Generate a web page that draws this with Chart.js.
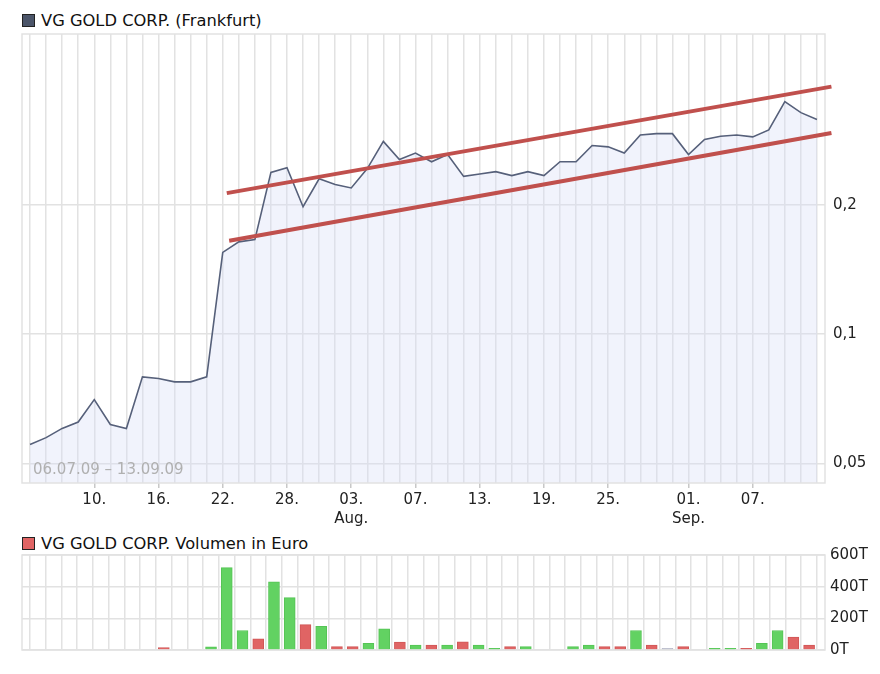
<!DOCTYPE html>
<html>
<head>
<meta charset="utf-8">
<script src="https://cdn.jsdelivr.net/npm/chart.js@4.4.1/dist/chart.umd.min.js"></script>
<style>
  body { margin: 0; background: #fff; width: 880px; height: 674px; overflow: hidden; position: relative; font-family: "DejaVu Sans", sans-serif; }
  canvas { position: absolute; left: 0; }
  .legend { position: absolute; left: 22px; font-size: 16.3px; color: #111; white-space: nowrap; }
  .legend span { display: inline-block; width: 11px; height: 11px; border: 1px solid #222; margin-right: 6px; vertical-align: -1px; }
  #range { position: absolute; left: 33px; top: 460px; font-size: 15px; color: #b0b0b0; }
</style>
</head>
<body>
<div class="legend" style="top:11px"><span style="background:#4b5569"></span>VG GOLD CORP. (Frankfurt)</div>
<div class="legend" style="top:534px"><span style="background:#e06464"></span>VG GOLD CORP. Volumen in Euro</div>
<canvas id="priceChart" width="880" height="530" style="top:0"></canvas>
<canvas id="volChart" width="880" height="144" style="top:530px"></canvas>
<div id="range">06.07.09 – 13.09.09</div>
<script>
// trading days 06.07.09 .. 11.09.09, index 0..49
const prices = [
  0.0553, 0.0574, 0.0603, 0.0624, 0.0704, 0.0616, 0.0603, 0.0795, 0.0788, 0.0774,
  0.0774, 0.0795, 0.155, 0.164, 0.166, 0.238, 0.244, 0.198, 0.230, 0.223,
  0.219, 0.243, 0.281, 0.255, 0.264, 0.252, 0.262, 0.233, 0.236, 0.239,
  0.234, 0.239, 0.234, 0.252, 0.252, 0.275, 0.273, 0.264, 0.291, 0.293,
  0.293, 0.262, 0.284, 0.289, 0.291, 0.288, 0.299, 0.348, 0.328, 0.316
];
// volume in thousand euro
const volumes = [
  0, 0, 0, 0, 0, 0, 0, 0, 15, 0,
  0, 20, 520, 123, 71, 431, 331, 160, 150, 21,
  21, 42, 133, 50, 31, 31, 31, 52, 31, 10,
  21, 21, 0, 0, 21, 31, 21, 21, 123, 31,
  10, 21, 0, 10, 10, 10, 42, 123, 81, 31
];
// u = up, d = down, n = unchanged
const volumeDir = [
  'n','n','n','n','n','n','n','n','d','n',
  'n','u','u','u','d','u','u','d','u','d',
  'd','u','u','d','u','d','u','d','u','u',
  'd','u','n','n','u','u','d','d','u','d',
  'n','d','n','u','u','d','u','u','d','d'
];
const tickIndex  = [4, 8, 12, 16, 20, 24, 28, 32, 36, 41, 45];
const tickLabels = ['10.', '16.', '22.', '28.', '03.', '07.', '13.', '19.', '25.', '01.', '07.'];
const tickMonths = ['', '', '', '', 'Aug.', '', '', '', '', 'Sep.', ''];
const priceTicks = [0.05, 0.1, 0.2];
const volumeTicks = [0, 200, 400, 600];
// trend channel drawn by hand on the original: [x index, price]
const upperTrend = [[12.25, 0.213], [49.9, 0.377]];
const lowerTrend = [[12.4, 0.165], [49.9, 0.294]];

const gridColor = '#e2e2e2';
const allIdx = prices.map((p, i) => i);

const frame = {
  id: 'frame',
  beforeDatasetsDraw(chart) {
    const a = chart.chartArea, c = chart.ctx;
    c.save();
    c.strokeStyle = gridColor;
    c.lineWidth = 1.5;
    c.strokeRect(a.left, a.top, a.right - a.left, a.bottom - a.top);
    c.restore();
  }
};

const xIdxScale = (showLabels) => ({
  type: 'linear',
  min: -0.5,
  max: prices.length - 0.5,
  afterBuildTicks: s => { s.ticks = allIdx.map(v => ({ value: v })); },
  grid: {
    color: gridColor,
    lineWidth: 1.5,
    drawTicks: showLabels,
    tickLength: 5,
    tickColor: ctx => (ctx.tick && tickIndex.includes(ctx.tick.value)) ? '#c8c8c8' : 'rgba(0,0,0,0)'
  },
  border: { display: false },
  ticks: {
    display: showLabels,
    autoSkip: false,
    maxRotation: 0,
    padding: 2,
    color: '#222',
    font: { family: 'DejaVu Sans', size: 15, lineHeight: 1.3 },
    callback: v => {
      const k = tickIndex.indexOf(v);
      if (k < 0) return '';
      return tickMonths[k] ? [tickLabels[k], tickMonths[k]] : tickLabels[k];
    }
  }
});

const trendStyle = {
  borderColor: '#c0504d',
  borderWidth: 4,
  pointRadius: 0,
  fill: false,
  clip: false,
  order: 0
};

new Chart(document.getElementById('priceChart'), {
  type: 'line',
  data: {
    datasets: [{
      data: prices.map((p, i) => ({ x: i, y: p })),
      borderColor: '#56607a',
      borderWidth: 1.6,
      backgroundColor: 'rgba(215,220,245,0.35)',
      fill: 'start',
      pointRadius: 0,
      tension: 0,
      order: 1
    },
    Object.assign({ data: upperTrend.map(p => ({ x: p[0], y: p[1] })) }, trendStyle),
    Object.assign({ data: lowerTrend.map(p => ({ x: p[0], y: p[1] })) }, trendStyle)]
  },
  options: {
    responsive: false,
    animation: false,
    layout: { padding: { left: 22, top: 34, right: 0, bottom: 0 } },
    plugins: {
      legend: { display: false },
      tooltip: { enabled: false },
      filler: { drawTime: 'beforeDatasetsDraw' }
    },
    scales: {
      x: Object.assign(xIdxScale(true), { afterFit: s => { s.height = 47; } }),
      y: {
        type: 'logarithmic',
        position: 'right',
        min: 0.045,
        max: 0.5,
        afterBuildTicks: s => { s.ticks = priceTicks.map(v => ({ value: v })); },
        afterFit: s => { s.width = 55; },
        grid: { color: gridColor, lineWidth: 1.5, drawTicks: false },
        border: { display: false },
        ticks: {
          padding: 8,
          color: '#222',
          font: { family: 'DejaVu Sans', size: 15 },
          callback: v => String(v).replace('.', ',')
        }
      }
    }
  },
  plugins: [frame]
});

const upColor = '#62d262', downColor = '#e06464', flatColor = '#c8cad8';

new Chart(document.getElementById('volChart'), {
  type: 'bar',
  data: {
    datasets: [{
      data: volumes.map((v, i) => ({ x: i, y: v })),
      backgroundColor: volumeDir.map(d => d === 'u' ? upColor : d === 'd' ? downColor : flatColor),
      borderColor: volumeDir.map(d => d === 'u' ? '#55c455' : d === 'd' ? '#d05656' : '#b8bac8'),
      borderWidth: 1,
      barThickness: 11
    }]
  },
  options: {
    responsive: false,
    animation: false,
    layout: { padding: { left: 22, top: 25, right: 0, bottom: 24 } },
    plugins: { legend: { display: false }, tooltip: { enabled: false } },
    scales: {
      x: Object.assign(xIdxScale(false), { afterFit: s => { s.height = 0; } }),
      y: {
        position: 'right',
        min: 0,
        max: 600,
        afterBuildTicks: s => { s.ticks = volumeTicks.map(v => ({ value: v })); },
        afterFit: s => { s.width = 55; },
        grid: { color: gridColor, lineWidth: 1.5, drawTicks: false },
        border: { display: false },
        ticks: {
          padding: 5,
          color: '#222',
          font: { family: 'DejaVu Sans', size: 15 },
          callback: v => v + 'T'
        }
      }
    }
  },
  plugins: [frame]
});
</script>
</body>
</html>
